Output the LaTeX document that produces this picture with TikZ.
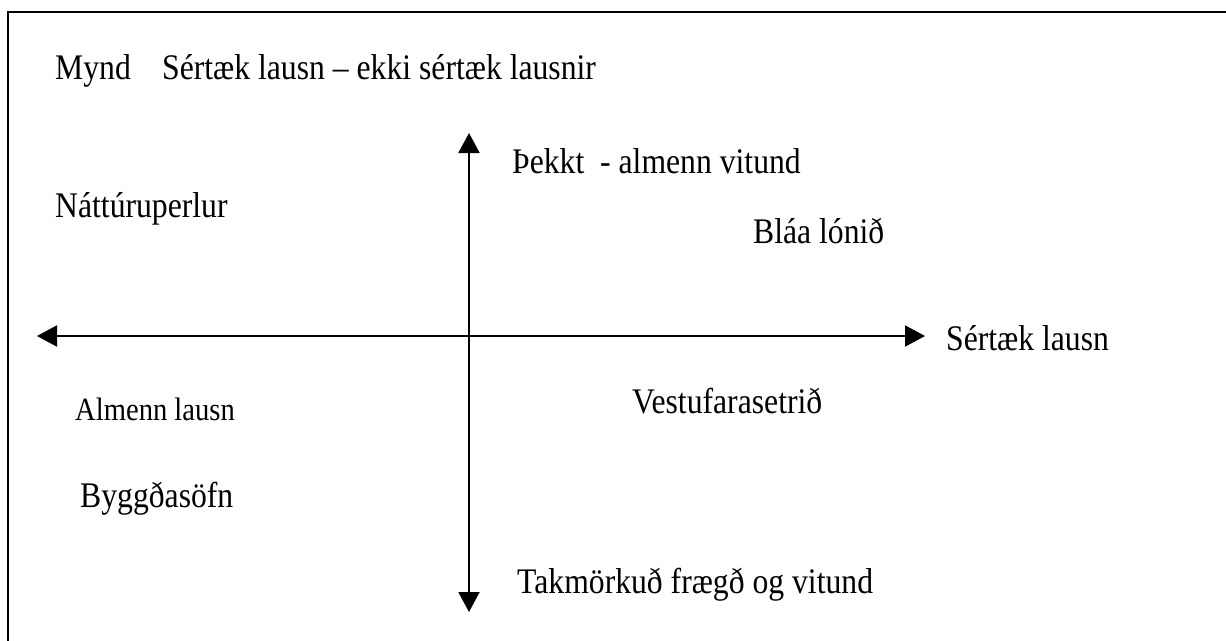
\documentclass[tikz,border=0pt]{standalone}
\usepackage{fontspec}
\setmainfont{Liberation Serif}[FakeStretch=0.88]
\usetikzlibrary{arrows.meta}
\begin{document}
\begin{tikzpicture}[x=1pt,y=-1pt,
  lbl/.style={anchor=base west,inner sep=0pt,font=\fontsize{36}{40}\selectfont},
  small/.style={anchor=base west,inner sep=0pt,font=\fontsize{32.5}{36}\selectfont},
  axis/.style={line width=2pt,-{Triangle[length=20pt,width=21pt]}},
  frame/.style={line width=1.8pt}]
\useasboundingbox (0,0) rectangle (1226,640);
\clip (0,0) rectangle (1226,640);
\draw[frame] (8,12) rectangle (1250,670);
% axes
\coordinate (c) at (469,336);
\coordinate (left) at (37,336);
\coordinate (right) at (925,336);
\coordinate (top) at (469,133);
\coordinate (bottom) at (469,612);
\draw[axis] (c) -- (left);
\draw[axis] (c) -- (right);
\draw[axis] (c) -- (top);
\draw[axis] (c) -- (bottom);
% texts
\node[lbl] (mynd) at (55,79) {Mynd};
\node[lbl] (title) at (162,79) {Sértæk lausn – ekki sértæk lausnir};
\node[lbl] (thekkt) at (512,173) {Þekkt\ \ - almenn vitund};
\node[lbl] (natt) at (55,217) {Náttúruperlur};
\node[lbl] (blaa) at (753,243) {Bláa lónið};
\node[lbl] (sert) at (946,350) {Sértæk lausn};
\node[small] (alm) at (75,420) {Almenn lausn};
\node[lbl] (vest) at (632,413) {Vestufarasetrið};
\node[lbl] (bygg) at (80,507) {Byggðasöfn};
\node[lbl] (takm) at (517,593) {Takmörkuð frægð og vitund};
\end{tikzpicture}
\end{document}
